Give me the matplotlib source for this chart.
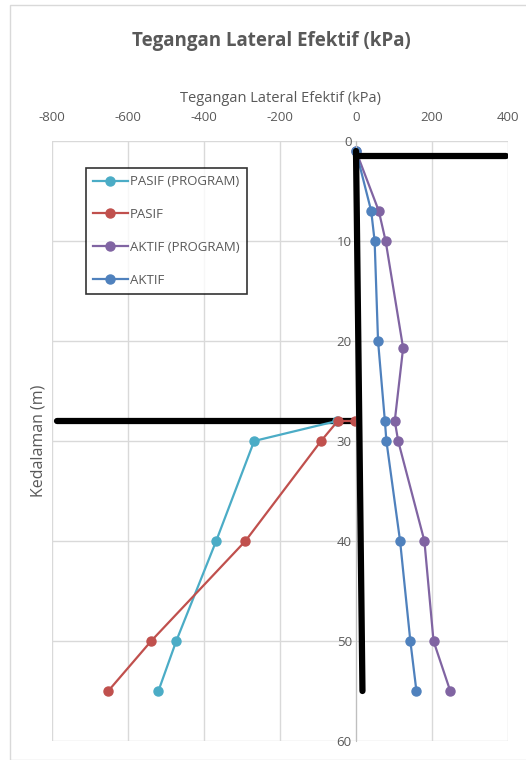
import matplotlib.pyplot as plt
from matplotlib.patches import Rectangle

plt.rcParams['font.family'] = ['Open Sans', 'DejaVu Sans']
plt.rcParams['axes.unicode_minus'] = False

# values (kPa, m)
pasif_prog_x = [-50, -268, -368, -473, -520]
pasif_prog_y = [28, 30, 40, 50, 55]
pasif_x = [-3, -48, -92, -291, -539, -652]
pasif_y = [28, 28, 30, 40, 50, 55]
aktif_prog_x = [0, 60, 78, 124, 102, 111, 180, 204, 248]
aktif_prog_y = [1, 7, 10, 20.7, 28, 30, 40, 50, 55]
aktif_x = [0, 40, 49, 58, 76, 80, 116, 143, 159]
aktif_y = [1, 7, 10, 20, 28, 30, 40, 50, 55]

# hand-drawn black lines (wall and levels)
wall_x = [0, 2, 17]
wall_y = [1, 7, 55]
top_x = [0, 394]
top_y = [1.5, 1.5]
dig_x = [-786, 0]
dig_y = [28, 28]

grey = '#595959'

fig = plt.figure(figsize=(5.26, 7.6), dpi=100)
fig.patches.append(Rectangle((10 / 526, 0), 1, 1 - 5 / 760, transform=fig.transFigure,
                             fill=False, edgecolor='#d9d9d9', linewidth=1))
ax = fig.add_axes([52 / 526, 19 / 760, 456 / 526, 600 / 760])

series = [
    (pasif_prog_x, pasif_prog_y, '#4bacc6', 'PASIF (PROGRAM)'),
    (pasif_x, pasif_y, '#c0504d', 'PASIF'),
    (aktif_prog_x, aktif_prog_y, '#8064a2', 'AKTIF (PROGRAM)'),
    (aktif_x, aktif_y, '#4f81bd', 'AKTIF'),
]
for xs, ys, c, lab in series:
    ax.plot(xs, ys, color=c, marker='o', markersize=6.5, linewidth=1.6, label=lab, zorder=2)

ax.plot(dig_x, dig_y, color='black', linewidth=4.5, solid_capstyle='round', zorder=1.5)
ax.plot(wall_x, wall_y, color='black', linewidth=4.5, solid_capstyle='round', zorder=3)
ax.plot(top_x, top_y, color='black', linewidth=4.5, solid_capstyle='round', zorder=3)

ax.set_xlim(-800, 400)
ax.set_ylim(60, 0)
ax.set_xticks(range(-800, 401, 200))
ax.set_yticks(range(0, 61, 10))
ax.xaxis.tick_top()
ax.xaxis.set_label_position('top')
ax.grid(True, color='#d9d9d9', linewidth=1)
ax.set_axisbelow(True)
for s in ['top', 'bottom', 'right']:
    ax.spines[s].set_visible(False)
ax.spines['left'].set_position(('data', 0))
ax.spines['left'].set_color('#bfbfbf')
ax.tick_params(length=0, labelsize=9.5, labelcolor=grey, pad=12)
ax.tick_params(axis='y', pad=3)

ax.set_xlabel('Tegangan Lateral Efektif (kPa)', fontsize=10.5, color=grey, labelpad=7)
ax.set_ylabel('Kedalaman (m)', fontsize=11.5, color=grey)
ax.yaxis.set_label_coords(-0.012, 0.5)

fig.text(0.515, 1 - 41 / 760, 'Tegangan Lateral Efektif (kPa)', ha='center', va='center',
         fontsize=13.5, fontweight='bold', color=grey)

leg = ax.legend(loc='upper left', bbox_to_anchor=(34 / 456, 1 - 27 / 600), frameon=True,
                fancybox=False, edgecolor='black', fontsize=9.5, labelspacing=1.5,
                handlelength=2.6, handletextpad=0.2, borderpad=0.55, borderaxespad=0,
                labelcolor=grey)
leg.get_frame().set_linewidth(1.2)
leg.set_zorder(5)

fig.savefig('out.png', dpi=100)
